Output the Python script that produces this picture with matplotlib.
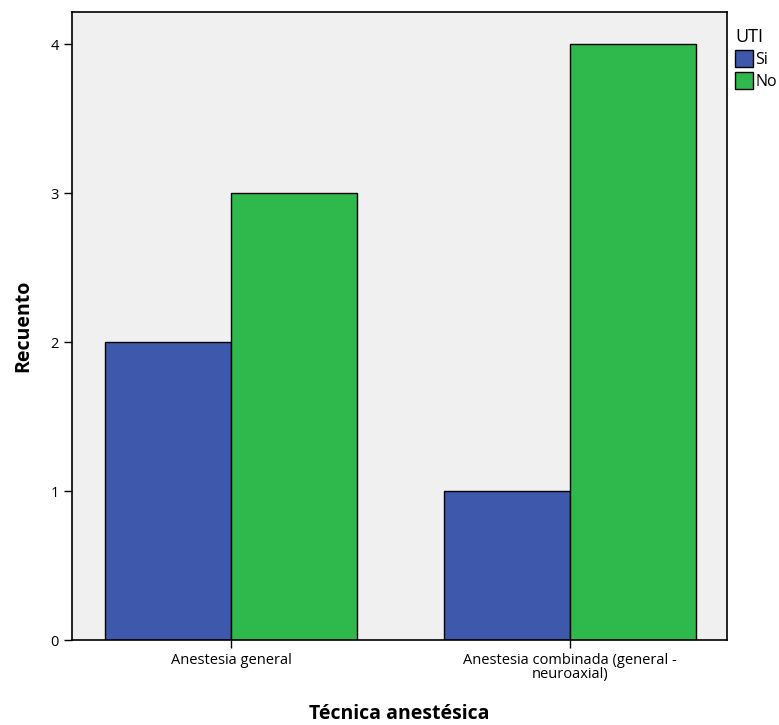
import numpy as np
from matplotlib import pyplot as plt

categories = ['Anestesia general', 'Anestesia combinada (general -\nneuroaxial)']
series_names = ['Si', 'No']
si_counts = [2, 1]
no_counts = [3, 4]
colors = ['#3e58ac', '#2fb84b']

plt.rcParams['font.family'] = ['Open Sans', 'DejaVu Sans']

fig = plt.figure(figsize=(7.79, 7.25), dpi=100)
ax = fig.add_axes([0.0924, 0.1172, 0.8409, 0.8662])
ax.set_facecolor('#f0f0f0')

x = np.arange(len(categories))
w = 0.372
ax.bar(x - w / 2, si_counts, w, color=colors[0], edgecolor='black', linewidth=1, label=series_names[0])
ax.bar(x + w / 2, no_counts, w, color=colors[1], edgecolor='black', linewidth=1, label=series_names[1])

ax.set_xlim(-0.469, 1.463)
ax.set_ylim(0, 4.215)
ax.set_xticks(x)
ax.set_xticklabels(categories, fontsize=10.5, linespacing=0.85)
ax.set_yticks([0, 1, 2, 3, 4])
ax.tick_params(length=6, width=1, labelsize=10.5)
for s in ax.spines.values():
    s.set_linewidth(1.2)

ax.set_xlabel('Técnica anestésica', fontsize=14, fontweight='bold', labelpad=16)
ax.set_ylabel('Recuento', fontsize=14, fontweight='bold', labelpad=12)

leg = ax.legend(title='UTI', loc='upper left', bbox_to_anchor=(0.998, 0.99), frameon=False,
                fontsize=11.5, title_fontsize=13, handlelength=1.1, handleheight=1.3,
                handletextpad=0.15, borderpad=0.3, labelspacing=0.25, borderaxespad=0.3)
leg._legend_box.align = 'left'

fig.savefig('out.png', dpi=100)
